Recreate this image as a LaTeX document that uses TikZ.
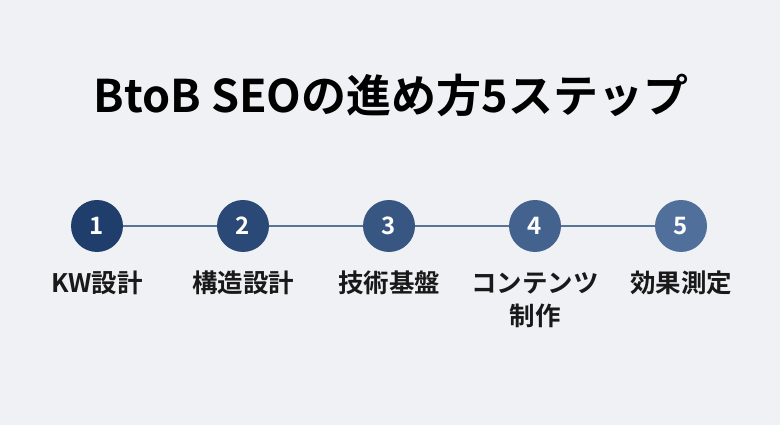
\documentclass[tikz,border=0pt]{standalone}
\usepackage{fontspec}
\setmainfont{Noto Sans CJK JP}[BoldFont={Noto Sans CJK JP Bold}]
\usepackage{xcolor}
\usetikzlibrary{positioning}
\definecolor{bgcol}{HTML}{F0F1F5}
\definecolor{stepA}{HTML}{1F3E6C}
\definecolor{stepB}{HTML}{2A4977}
\definecolor{stepC}{HTML}{375682}
\definecolor{stepD}{HTML}{43628E}
\definecolor{stepE}{HTML}{506F9A}
\definecolor{linkcol}{HTML}{5A7398}
\tikzstyle{stepnum} = [circle,minimum size=52pt,inner sep=0pt,text=white,font=\fontsize{24}{24}\selectfont\bfseries]
\tikzstyle{steplabel} = [anchor=base,align=center,text=black!90,font=\fontsize{25.5}{33}\selectfont\bfseries]
\tikzstyle{link} = [draw=linkcol,line width=1.2pt]

\begin{document}
\begin{tikzpicture}[x=1pt,y=1pt]
  \fill[bgcol] (0,0) rectangle (780,425);
  \useasboundingbox (0,0) rectangle (780,425);
  \node (title) at (391,330) {\fontsize{45}{45}\selectfont\bfseries BtoB SEOの進め方5ステップ};
  \node[stepnum,fill=stepA] (s1) at (97,199) {1};
  \node[stepnum,fill=stepB] (s2) at (243,199) {2};
  \node[stepnum,fill=stepC] (s3) at (389,199) {3};
  \node[stepnum,fill=stepD] (s4) at (535,199) {4};
  \node[stepnum,fill=stepE] (s5) at (681,199) {5};
  \path[link]
    (s1) edge (s2)
    (s2) edge (s3)
    (s3) edge (s4)
    (s4) edge (s5);
  \node[steplabel] (l1) at (97,132) {KW設計};
  \node[steplabel] (l2) at (243,132) {構造設計};
  \node[steplabel] (l3) at (389,132) {技術基盤};
  \node[steplabel] (l4) at (535,99) {コンテンツ\\制作};
  \node[steplabel] (l5) at (681,132) {効果測定};
\end{tikzpicture}
\end{document}
